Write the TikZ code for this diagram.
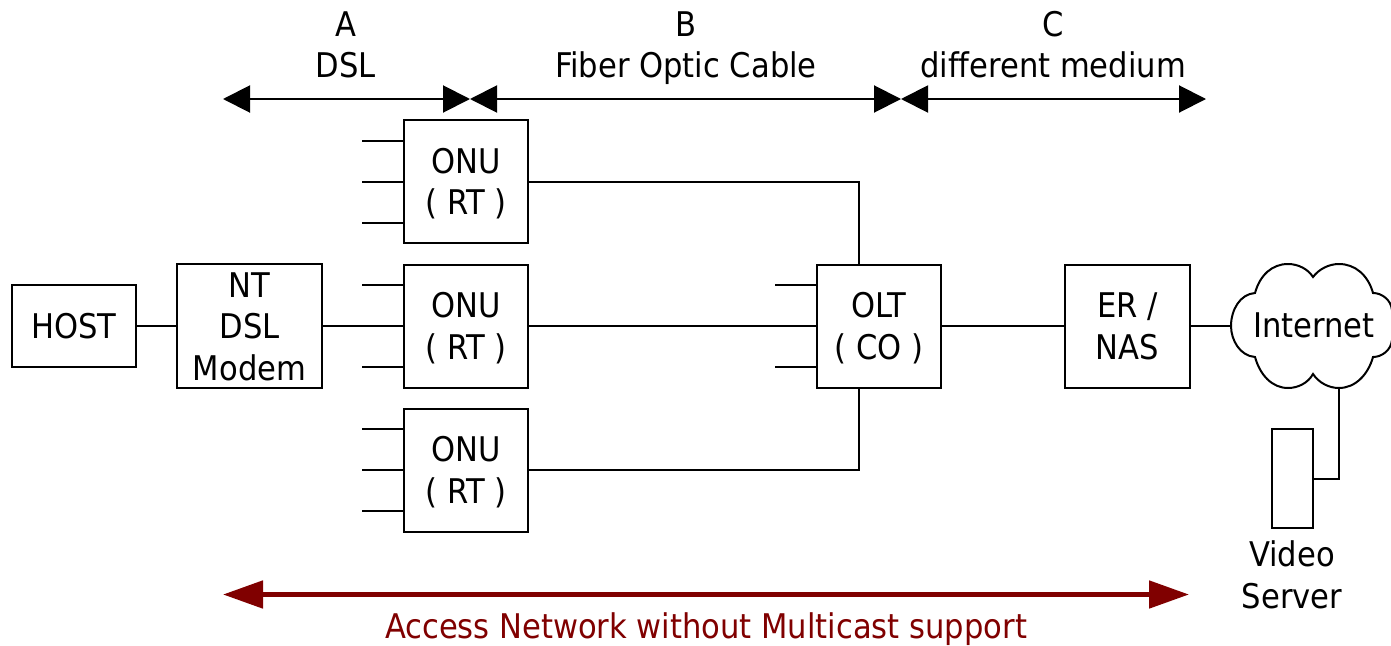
\documentclass[tikz,border=0pt]{standalone}
\usepackage{fontspec}
\setmainfont{DejaVu Sans Condensed}[Ligatures=NoCommon]
\usetikzlibrary{arrows.meta,calc}
\definecolor{darkred}{HTML}{800000}
\newcommand{\labelfont}{\fontsize{34}{41.5}\selectfont}
\newcommand{\lst}{\rule[-8pt]{0pt}{41pt}}
\tikzset{
  boxn/.style={draw=black,line width=2pt,fill=white,minimum width=#1,minimum height=123pt,inner sep=0pt,align=center,font=\labelfont},
  boxn/.default=124pt,
  wire/.style={draw=black,line width=2pt},
  lbl/.style={align=center,font=\labelfont,inner sep=0pt},
  span/.style={line width=2pt,{Triangle[length=27pt,width=27pt]}-{Triangle[length=27pt,width=27pt]}},
  redspan/.style={darkred,line width=5pt,{Triangle[length=40pt,width=27pt]}-{Triangle[length=40pt,width=27pt]}},
}
\begin{document}
\begin{tikzpicture}[x=1pt,y=-1pt]
\useasboundingbox (0,0) rectangle (1391,645);
% boxes
\node[boxn,minimum height=82pt] (host) at (74,326) {\lst HOST};
\node[boxn=145pt] (nt) at (249.5,326) {\lst NT\\\lst DSL\\\lst Modem};
\node[boxn] (onua) at (466,181.5) {\lst ONU\\\lst ( RT )};
\node[boxn] (onub) at (466,326) {\lst ONU\\\lst ( RT )};
\node[boxn] (onuc) at (466,470) {\lst ONU\\\lst ( RT )};
\node[boxn] (olt) at (879,326) {\lst OLT\\\lst ( CO )};
\node[boxn=125pt] (er) at (1127.5,326) {\lst ER /\\\lst NAS};
\node[boxn=41pt,minimum height=99pt] (vs) at (1292.5,478.5) {};
\node[lbl] (vslabel) at (1292,575) {\lst Video\\\lst Server};
% cloud
\node[lbl] (inet) at (1314,325) {\lst Internet};
\coordinate (cloudw) at (1231,326);
\coordinate (clouds) at (1339,388);
\draw[line width=2pt]
  (1231,326) .. controls (1231,310) and (1240,294) .. (1255,293)
  .. controls (1260,275) and (1272,264) .. (1288,264)
  .. controls (1298,264) and (1308,269) .. (1313,277)
  .. controls (1319,269) and (1329,264) .. (1339,264)
  .. controls (1355,264) and (1368,275) .. (1373,293)
  .. controls (1382,293) and (1391,300) .. (1392,310)
  -- (1392,340)
  .. controls (1391,350) and (1382,357) .. (1373,357)
  .. controls (1368,375) and (1355,388) .. (1339,388)
  .. controls (1329,388) and (1319,383) .. (1313,374)
  .. controls (1308,383) and (1298,388) .. (1288,388)
  .. controls (1272,388) and (1260,375) .. (1255,357)
  .. controls (1240,356) and (1231,340) .. (1231,326) -- cycle;
% connectors
\draw[wire] (host) -- (nt);
\draw[wire] (nt) -- (onub);
\draw[wire] (onub) -- (olt);
\draw[wire] (olt) -- (er);
\draw[wire] (er) -- (cloudw);
\draw[wire] (onua.east) -| ($(olt.north)+(-20,0)$);
\draw[wire] (onuc.east) -| ($(olt.south)+(-20,0)$);
\draw[wire] (vs.east) -| (clouds);
% stubs
\foreach \n in {onua,onub,onuc}{
  \foreach \dy/\tag in {-41/t,41/b}{
    \coordinate (\n\tag) at ($(\n.west)+(-41,\dy)$);
    \draw[wire] (\n\tag) -- ($(\n.west)+(0,\dy)$);
  }
}
\foreach \n in {onua,onuc}{
  \coordinate (\n m) at ($(\n.west)+(-41,0)$);
  \draw[wire] (\n m) -- (\n.west);
}
\foreach \dy/\tag in {-41/t,41/b}{
  \coordinate (olt\tag) at ($(olt.west)+(-41,\dy)$);
  \draw[wire] (olt\tag) -- ($(olt.west)+(0,\dy)$);
}
% spans
\coordinate (a1) at (223,99);
\coordinate (a2) at (470,99);
\coordinate (a3) at (901,99);
\coordinate (a4) at (1206,99);
\draw[span] (a1) -- (a2);
\draw[span] (a2) -- (a3);
\draw[span] (a3) -- (a4);
\node[lbl] (la) at (346,44.5) {\lst A\\\lst DSL};
\node[lbl] (lb) at (686,44.5) {\lst B\\\lst Fiber Optic Cable};
\node[lbl] (lc) at (1053,44.5) {\lst C\\\lst different medium};
\coordinate (r1) at (223,594.5);
\coordinate (r2) at (1189,594.5);
\draw[redspan] (r1) -- (r2);
\node[lbl,text=darkred] (lr) at (706,626) {\lst Access Network without Multicast support};
\end{tikzpicture}
\end{document}
